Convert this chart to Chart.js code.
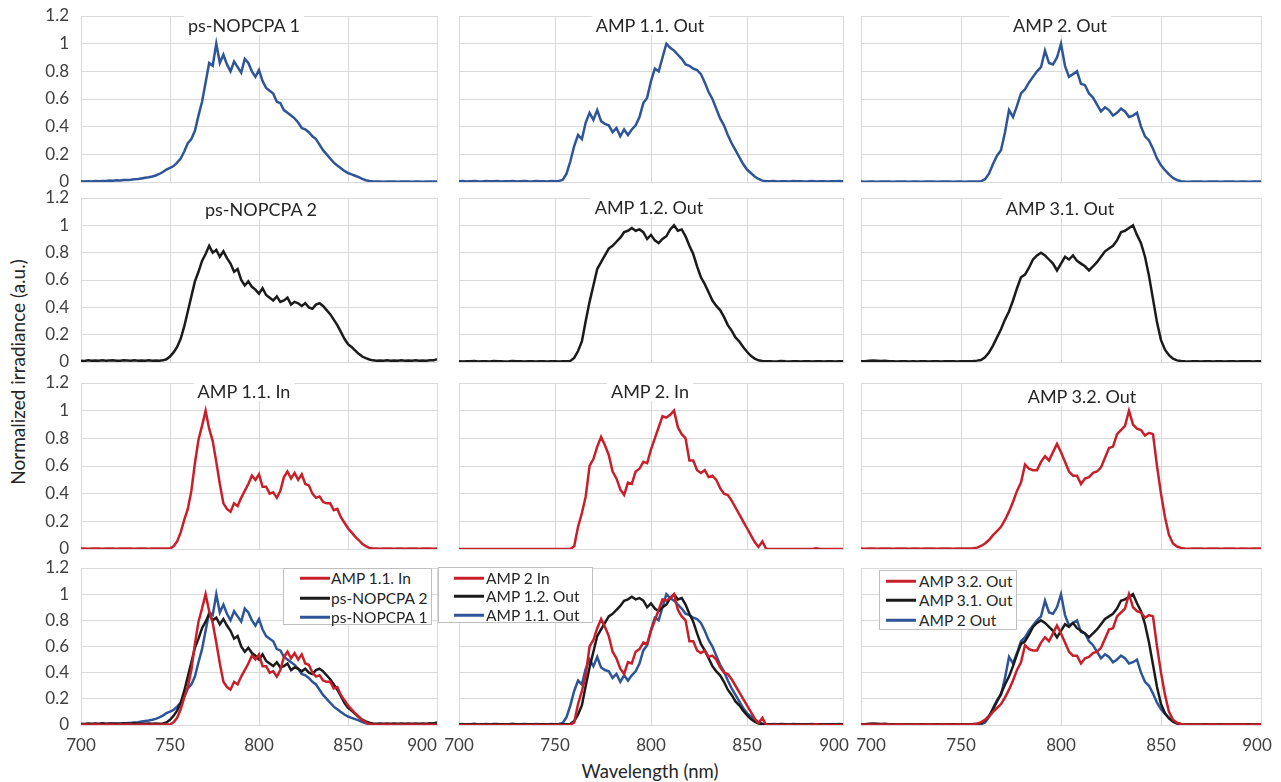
<!DOCTYPE html>
<html>
<head>
<meta charset="utf-8">
<script src="https://cdn.jsdelivr.net/npm/chart.js@4.4.1/dist/chart.umd.min.js"></script>
<style>
  html, body { margin: 0; padding: 0; background: #fff; }
  #fig { position: relative; width: 1281px; height: 782px; overflow: hidden; font-family: Lato, "Open Sans", sans-serif; }
  #fig canvas { position: absolute; }
  .ttl { position: absolute; transform: translate(-50%, -50%); background: #fff; font-size: 18px; line-height: 18px; color: #262626; padding: 1px 4px; white-space: nowrap; z-index: 2; }
  .leg { position: absolute; background: #fff; border: 1px solid #bfbfbf; box-sizing: border-box; z-index: 3; }
  .leg div { position: absolute; font-size: 15.5px; line-height: 16px; color: #262626; white-space: nowrap; transform: translateY(-50%); }
  .leg span { position: absolute; height: 2.5px; transform: translateY(-50%); }
  .axt { position: absolute; line-height: 20px; color: #262626; white-space: nowrap; transform: translate(-50%, -50%); }
</style>
</head>
<body>
<div id="fig">
  <div class="axt" style="left:650px; top:771px; font-size:18.5px;">Wavelength (nm)</div>
  <div class="axt" style="left:18px; top:372px; font-size:19px; transform: translate(-50%, -50%) rotate(-90deg);">Normalized irradiance (a.u.)</div>
</div>
<script>
// wavelength grid (nm)
const wavelengths = [
  700, 702, 704, 706, 708, 710, 712, 714, 716, 718, 720, 722, 724, 726, 728, 730, 732, 734, 736, 738, 740, 742, 744, 746, 748,
  750, 752, 754, 756, 758, 760, 762, 764, 766, 768, 770, 772, 774, 776, 778, 780, 782, 784, 786, 788, 790, 792, 794, 796, 798,
  800, 802, 804, 806, 808, 810, 812, 814, 816, 818, 820, 822, 824, 826, 828, 830, 832, 834, 836, 838, 840, 842, 844, 846, 848,
  850, 852, 854, 856, 858, 860, 862, 864, 866, 868, 870, 872, 874, 876, 878, 880, 882, 884, 886, 888, 890, 892, 894, 896, 898, 900
];
const xTicks = [700, 750, 800, 850, 900];
const yTicks = [0, 0.2, 0.4, 0.6, 0.8, 1, 1.2];

// normalized spectra
const nopcpa1 = [
  0.005, 0.003, 0.006, 0.004, 0.007, 0.006, 0.008, 0.007, 0.010, 0.009, 0.012, 0.011, 0.014, 0.015, 0.017, 0.020, 0.022, 0.026, 0.030, 0.034, 0.040, 0.047, 0.058, 0.072, 0.090,
  0.102, 0.115, 0.14, 0.17, 0.22, 0.28, 0.31, 0.37, 0.48, 0.58, 0.72, 0.86, 0.84, 1.00, 0.86, 0.92, 0.85, 0.80, 0.87, 0.83, 0.79, 0.89, 0.86, 0.80, 0.76,
  0.81, 0.73, 0.68, 0.66, 0.64, 0.58, 0.57, 0.52, 0.50, 0.48, 0.46, 0.43, 0.39, 0.38, 0.36, 0.33, 0.31, 0.27, 0.23, 0.20, 0.17, 0.14, 0.12, 0.10, 0.08,
  0.065, 0.055, 0.045, 0.035, 0.022, 0.013, 0.007, 0.004, 0.003, 0.004, 0.002, 0.003, 0.004, 0.003, 0.002, 0.004, 0.003, 0.003, 0.002, 0.004, 0.003, 0.002, 0.003, 0.004, 0.003, 0.003
];
const nopcpa2 = [
  0.010, 0.008, 0.012, 0.009, 0.011, 0.010, 0.013, 0.009, 0.011, 0.012, 0.010, 0.009, 0.012, 0.011, 0.010, 0.013, 0.010, 0.011, 0.009, 0.012, 0.010, 0.011, 0.010, 0.012, 0.020,
  0.04, 0.07, 0.11, 0.17, 0.26, 0.37, 0.48, 0.59, 0.66, 0.74, 0.79, 0.85, 0.80, 0.82, 0.77, 0.81, 0.76, 0.72, 0.66, 0.68, 0.60, 0.56, 0.59, 0.55, 0.53,
  0.50, 0.54, 0.49, 0.47, 0.45, 0.48, 0.44, 0.45, 0.47, 0.42, 0.44, 0.43, 0.41, 0.43, 0.40, 0.39, 0.42, 0.43, 0.41, 0.38, 0.35, 0.31, 0.27, 0.22, 0.17,
  0.13, 0.11, 0.085, 0.06, 0.04, 0.028, 0.018, 0.012, 0.010, 0.011, 0.009, 0.012, 0.010, 0.011, 0.009, 0.012, 0.010, 0.011, 0.010, 0.012, 0.009, 0.011, 0.010, 0.013, 0.012, 0.020
];
const amp11In = [
  0.003, 0.004, 0.002, 0.003, 0.004, 0.003, 0.002, 0.004, 0.003, 0.003, 0.002, 0.004, 0.003, 0.003, 0.004, 0.002, 0.003, 0.004, 0.003, 0.002, 0.003, 0.004, 0.003, 0.003, 0.004,
  0.004, 0.02, 0.055, 0.12, 0.21, 0.29, 0.42, 0.62, 0.79, 0.89, 1.00, 0.87, 0.78, 0.63, 0.47, 0.33, 0.29, 0.27, 0.33, 0.31, 0.37, 0.42, 0.47, 0.53, 0.50,
  0.54, 0.45, 0.45, 0.40, 0.41, 0.37, 0.42, 0.52, 0.56, 0.51, 0.55, 0.50, 0.54, 0.47, 0.46, 0.40, 0.37, 0.38, 0.34, 0.33, 0.33, 0.28, 0.29, 0.23, 0.19,
  0.15, 0.12, 0.09, 0.065, 0.038, 0.02, 0.008, 0.004, 0.003, 0.002, 0.004, 0.003, 0.003, 0.002, 0.004, 0.003, 0.002, 0.003, 0.004, 0.003, 0.002, 0.003, 0.003, 0.004, 0.002, 0.003
];
const amp11Out = [
  0.005, 0.007, 0.004, 0.006, 0.008, 0.005, 0.004, 0.007, 0.006, 0.005, 0.008, 0.004, 0.006, 0.005, 0.007, 0.004, 0.006, 0.008, 0.005, 0.004, 0.007, 0.005, 0.006, 0.004, 0.007,
  0.005, 0.008, 0.015, 0.06, 0.15, 0.26, 0.34, 0.31, 0.43, 0.50, 0.45, 0.52, 0.44, 0.42, 0.41, 0.36, 0.39, 0.33, 0.38, 0.34, 0.38, 0.41, 0.47, 0.57, 0.61,
  0.73, 0.82, 0.80, 0.90, 1.00, 0.97, 0.95, 0.92, 0.89, 0.85, 0.84, 0.82, 0.81, 0.78, 0.72, 0.65, 0.60, 0.53, 0.46, 0.41, 0.34, 0.28, 0.23, 0.18, 0.13,
  0.09, 0.065, 0.04, 0.022, 0.01, 0.006, 0.005, 0.007, 0.004, 0.006, 0.005, 0.004, 0.007, 0.005, 0.006, 0.004, 0.005, 0.007, 0.004, 0.006, 0.005, 0.004, 0.006, 0.005, 0.007, 0.005
];
const amp12Out = [
  0.005, 0.004, 0.006, 0.005, 0.007, 0.004, 0.006, 0.005, 0.004, 0.007, 0.005, 0.006, 0.004, 0.005, 0.008, 0.006, 0.005, 0.004, 0.006, 0.005, 0.004, 0.006, 0.005, 0.004, 0.006,
  0.005, 0.004, 0.006, 0.005, 0.008, 0.03, 0.08, 0.15, 0.30, 0.44, 0.56, 0.68, 0.73, 0.78, 0.83, 0.85, 0.88, 0.91, 0.95, 0.96, 0.98, 0.96, 0.97, 0.95, 0.90,
  0.93, 0.89, 0.87, 0.90, 0.92, 0.97, 1.00, 0.96, 0.97, 0.92, 0.85, 0.79, 0.70, 0.62, 0.57, 0.51, 0.45, 0.41, 0.38, 0.33, 0.27, 0.23, 0.18, 0.15, 0.11,
  0.075, 0.045, 0.025, 0.012, 0.008, 0.005, 0.006, 0.004, 0.005, 0.007, 0.005, 0.004, 0.006, 0.005, 0.004, 0.006, 0.005, 0.004, 0.005, 0.006, 0.004, 0.005, 0.006, 0.004, 0.005, 0.005
];
const amp2In = [
  0, 0, 0, 0, 0, 0, 0, 0, 0, 0, 0, 0, 0, 0, 0, 0, 0, 0, 0, 0, 0, 0, 0, 0, 0,
  0, 0, 0, 0, 0, 0.02, 0.16, 0.26, 0.38, 0.60, 0.65, 0.74, 0.81, 0.75, 0.68, 0.56, 0.51, 0.43, 0.39, 0.48, 0.47, 0.56, 0.58, 0.63, 0.62,
  0.72, 0.80, 0.88, 0.96, 0.95, 0.97, 1.00, 0.88, 0.83, 0.80, 0.64, 0.64, 0.57, 0.55, 0.57, 0.52, 0.53, 0.50, 0.44, 0.40, 0.39, 0.35, 0.30, 0.25, 0.20,
  0.15, 0.10, 0.05, 0.015, 0.055, 0, 0, 0, 0, 0, 0, 0, 0, 0, 0, 0, 0, 0, 0.006, 0, 0, 0, 0, 0, 0, 0
];
const amp2Out = [
  0.003, 0.002, 0.004, 0.003, 0.002, 0.003, 0.004, 0.003, 0.002, 0.003, 0.003, 0.004, 0.002, 0.003, 0.003, 0.002, 0.004, 0.003, 0.003, 0.002, 0.003, 0.004, 0.003, 0.002, 0.003,
  0.003, 0.002, 0.004, 0.003, 0.004, 0.005, 0.02, 0.06, 0.13, 0.19, 0.23, 0.36, 0.52, 0.47, 0.55, 0.64, 0.67, 0.72, 0.76, 0.80, 0.83, 0.95, 0.86, 0.85, 0.90,
  1.00, 0.84, 0.76, 0.78, 0.80, 0.71, 0.70, 0.64, 0.61, 0.56, 0.51, 0.54, 0.52, 0.48, 0.50, 0.53, 0.51, 0.47, 0.48, 0.50, 0.40, 0.33, 0.30, 0.24, 0.17,
  0.12, 0.085, 0.055, 0.03, 0.014, 0.006, 0.003, 0.002, 0.004, 0.003, 0.003, 0.002, 0.003, 0.004, 0.003, 0.002, 0.003, 0.003, 0.004, 0.002, 0.003, 0.003, 0.002, 0.004, 0.003, 0.003
];
const amp31Out = [
  0.005, 0.006, 0.009, 0.011, 0.010, 0.008, 0.009, 0.006, 0.005, 0.004, 0.005, 0.006, 0.004, 0.005, 0.004, 0.006, 0.005, 0.004, 0.005, 0.006, 0.004, 0.005, 0.006, 0.005, 0.004,
  0.005, 0.006, 0.005, 0.007, 0.010, 0.015, 0.035, 0.07, 0.12, 0.18, 0.24, 0.31, 0.37, 0.45, 0.54, 0.62, 0.64, 0.69, 0.75, 0.78, 0.80, 0.78, 0.75, 0.72, 0.67,
  0.72, 0.77, 0.75, 0.78, 0.74, 0.72, 0.70, 0.67, 0.70, 0.73, 0.77, 0.81, 0.83, 0.85, 0.89, 0.95, 0.96, 0.98, 1.00, 0.93, 0.87, 0.77, 0.63, 0.46, 0.29,
  0.16, 0.09, 0.05, 0.025, 0.012, 0.007, 0.005, 0.004, 0.006, 0.005, 0.004, 0.005, 0.006, 0.004, 0.005, 0.005, 0.004, 0.006, 0.005, 0.004, 0.005, 0.006, 0.005, 0.004, 0.005, 0.005
];
const amp32Out = [
  0.003, 0.002, 0.004, 0.003, 0.002, 0.003, 0.004, 0.003, 0.002, 0.003, 0.003, 0.004, 0.002, 0.003, 0.003, 0.002, 0.004, 0.003, 0.003, 0.002, 0.003, 0.004, 0.003, 0.002, 0.003,
  0.003, 0.004, 0.003, 0.005, 0.010, 0.022, 0.04, 0.065, 0.10, 0.13, 0.16, 0.21, 0.27, 0.34, 0.42, 0.48, 0.61, 0.58, 0.57, 0.57, 0.63, 0.67, 0.64, 0.70, 0.76,
  0.70, 0.63, 0.56, 0.53, 0.53, 0.47, 0.51, 0.52, 0.55, 0.56, 0.59, 0.66, 0.73, 0.74, 0.83, 0.86, 0.89, 1.00, 0.90, 0.87, 0.86, 0.82, 0.84, 0.83, 0.60,
  0.40, 0.23, 0.10, 0.04, 0.018, 0.008, 0.003, 0.002, 0.004, 0.003, 0.003, 0.002, 0.003, 0.004, 0.003, 0.002, 0.003, 0.003, 0.004, 0.002, 0.003, 0.003, 0.002, 0.004, 0.003, 0.003
];

const colors = { red: "#C8202B", black: "#1B1B1B", blue: "#2D5597", grid: "#D9D9D9", text: "#404040" };

// canvas placement: columns / rows of the 4x3 grid (plot areas at
// x 81-437, 459-843, 861-1261 and y 16-182, 198-362, 383-549, 568-725)
const PAD = 30;
const cols = [
  { left: 0, width: 445, padL: 0, yWidth: 81, padR: 8, shift: { 900: -15 } },
  { left: 440, width: 411, padL: 19, yWidth: 0, padR: 8, shift: { 900: -9 } },
  { left: 853, width: 420, padL: 8, yWidth: 0, padR: 12, shift: { 700: 10, 900: -4 } },
];
const rows = [
  { top: 16 - PAD, height: PAD + 166 + PAD, padB: PAD, xHeight: 0 },
  { top: 198 - PAD, height: PAD + 164 + PAD, padB: PAD, xHeight: 0 },
  { top: 383 - PAD, height: PAD + 166 + PAD, padB: PAD, xHeight: 0 },
  { top: 568 - PAD, height: PAD + 157 + 30, padB: 0, xHeight: 30 },
];

const panels = [
  { row: 0, col: 0, title: "ps-NOPCPA 1", tx: 244, ty: 25, lines: [["ps-NOPCPA 1", nopcpa1, colors.blue]] },
  { row: 0, col: 1, title: "AMP 1.1. Out", tx: 650, ty: 25, lines: [["AMP 1.1. Out", amp11Out, colors.blue]] },
  { row: 0, col: 2, title: "AMP 2. Out", tx: 1060, ty: 25, lines: [["AMP 2. Out", amp2Out, colors.blue]] },
  { row: 1, col: 0, title: "ps-NOPCPA 2", tx: 261, ty: 209, lines: [["ps-NOPCPA 2", nopcpa2, colors.black]] },
  { row: 1, col: 1, title: "AMP 1.2. Out", tx: 649, ty: 207, lines: [["AMP 1.2. Out", amp12Out, colors.black]] },
  { row: 1, col: 2, title: "AMP 3.1. Out", tx: 1060, ty: 208, lines: [["AMP 3.1. Out", amp31Out, colors.black]] },
  { row: 2, col: 0, title: "AMP 1.1. In", tx: 244, ty: 391, lines: [["AMP 1.1. In", amp11In, colors.red]] },
  { row: 2, col: 1, title: "AMP 2. In", tx: 650, ty: 391, lines: [["AMP 2. In", amp2In, colors.red]] },
  { row: 2, col: 2, title: "AMP 3.2. Out", tx: 1082, ty: 396, lines: [["AMP 3.2. Out", amp32Out, colors.red]] },
  { row: 3, col: 0, legend: { left: 283, top: 568, width: 149, height: 57, rowsY: [9, 29, 48], lineX: 16, textX: 47 },
    lines: [["AMP 1.1. In", amp11In, colors.red], ["ps-NOPCPA 2", nopcpa2, colors.black], ["ps-NOPCPA 1", nopcpa1, colors.blue]] },
  { row: 3, col: 1, legend: { left: 438, top: 567, width: 155, height: 56, rowsY: [10, 28, 47], lineX: 15, textX: 47 },
    lines: [["AMP 2 In", amp2In, colors.red], ["AMP 1.2. Out", amp12Out, colors.black], ["AMP 1.1. Out", amp11Out, colors.blue]] },
  { row: 3, col: 2, legend: { left: 879, top: 570, width: 138, height: 60, rowsY: [10, 29, 49], lineX: 6, textX: 39 },
    lines: [["AMP 3.2. Out", amp32Out, colors.red], ["AMP 3.1. Out", amp31Out, colors.black], ["AMP 2 Out", amp2Out, colors.blue]] },
];

// x tick labels drawn under the bottom row, nudged like the original to avoid overlap
const xLabelPlugin = {
  id: "xLabels",
  afterDraw(chart, args, opts) {
    if (!opts.show) return;
    const ctx = chart.ctx;
    const xs = chart.scales.x;
    ctx.save();
    ctx.font = '17px Lato, "Open Sans", sans-serif';
    ctx.fillStyle = colors.text;
    ctx.textAlign = "center";
    ctx.textBaseline = "middle";
    xTicks.forEach((v) => {
      const dx = (opts.shift && opts.shift[v]) || 0;
      ctx.fillText(String(v), xs.getPixelForValue(v) + dx, chart.chartArea.bottom + 21);
    });
    ctx.restore();
  },
};

const fig = document.getElementById("fig");

panels.forEach((p) => {
  const c = cols[p.col];
  const r = rows[p.row];
  const canvas = document.createElement("canvas");
  canvas.width = c.width;
  canvas.height = r.height;
  canvas.style.left = c.left + "px";
  canvas.style.top = r.top + "px";
  fig.appendChild(canvas);

  new Chart(canvas.getContext("2d"), {
    type: "line",
    data: {
      datasets: p.lines.map(([label, values, color]) => ({
        label: label,
        data: wavelengths.map((w, i) => ({ x: w, y: values[i] })),
        borderColor: color,
        backgroundColor: color,
        borderWidth: 2.5,
        pointRadius: 0,
        tension: 0,
        fill: false,
      })),
    },
    options: {
      responsive: false,
      animation: false,
      devicePixelRatio: 1,
      layout: { padding: { left: c.padL, right: c.padR, top: PAD, bottom: r.padB } },
      plugins: {
        legend: { display: false },
        tooltip: { enabled: false },
        xLabels: { show: p.row === 3, shift: c.shift },
      },
      scales: {
        x: {
          type: "linear",
          min: 700,
          max: 900,
          afterBuildTicks: (s) => { s.ticks = xTicks.map((v) => ({ value: v })); },
          ticks: { display: false },
          grid: { color: colors.grid, lineWidth: 1, drawTicks: false },
          border: { color: colors.grid },
          afterFit: (s) => { s.height = r.xHeight; },
        },
        y: {
          min: 0,
          max: 1.2,
          afterBuildTicks: (s) => { s.ticks = yTicks.map((v) => ({ value: v })); },
          ticks: {
            display: p.col === 0,
            padding: 12,
            color: colors.text,
            font: { family: 'Lato, "Open Sans", sans-serif', size: 17 },
            callback: (v) => String(Math.round(v * 10) / 10),
          },
          grid: { color: colors.grid, lineWidth: 1, drawTicks: false },
          border: { color: colors.grid },
          afterFit: (s) => { s.width = c.yWidth; },
        },
      },
    },
    plugins: [xLabelPlugin],
  });

  if (p.title) {
    const t = document.createElement("div");
    t.className = "ttl";
    t.textContent = p.title;
    t.style.left = p.tx + "px";
    t.style.top = p.ty + "px";
    fig.appendChild(t);
  }

  if (p.legend) {
    const L = p.legend;
    const box = document.createElement("div");
    box.className = "leg";
    box.style.left = L.left + "px";
    box.style.top = L.top + "px";
    box.style.width = L.width + "px";
    box.style.height = L.height + "px";
    p.lines.forEach(([label, values, color], i) => {
      const ln = document.createElement("span");
      ln.style.left = L.lineX + "px";
      ln.style.top = L.rowsY[i] + "px";
      ln.style.width = "30px";
      ln.style.background = color;
      box.appendChild(ln);
      const tx = document.createElement("div");
      tx.textContent = label;
      tx.style.left = L.textX + "px";
      tx.style.top = L.rowsY[i] + "px";
      box.appendChild(tx);
    });
    fig.appendChild(box);
  }
});
</script>
</body>
</html>
